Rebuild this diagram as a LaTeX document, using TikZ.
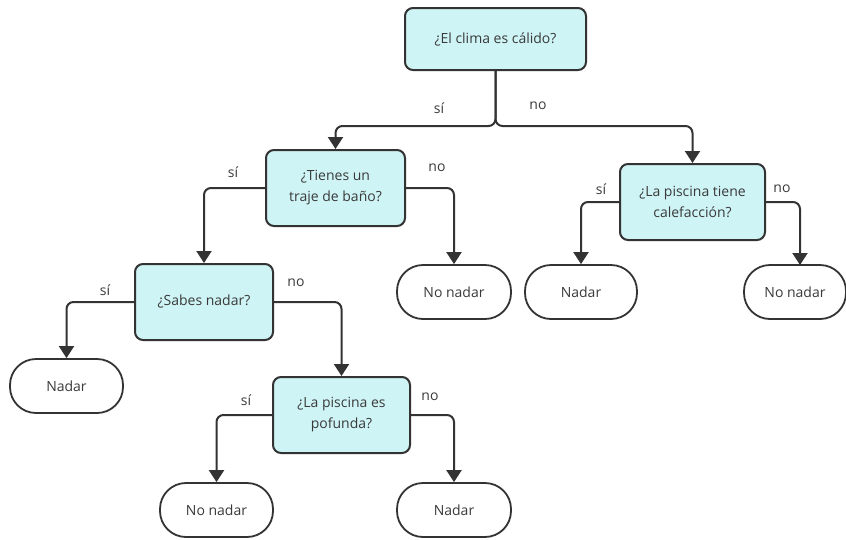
\documentclass[tikz,border=0pt]{standalone}
\usepackage{fontspec}
\setmainfont{Open Sans}
\usetikzlibrary{arrows.meta}
\definecolor{boxfill}{HTML}{CFF4F5}
\definecolor{linec}{HTML}{333333}
\definecolor{textc}{HTML}{3A3A3A}
\begin{document}
\begin{tikzpicture}[x=1pt,y=1pt,
  every node/.style={font=\fontsize{14}{21}\selectfont, text=textc},
  decision/.style={draw=linec, line width=2pt, fill=boxfill, rounded corners=8pt, align=center, inner sep=0pt},
  terminal/.style={draw=linec, line width=1.8pt, fill=white, rounded corners=26pt, inner sep=0pt, minimum height=54pt},
  conn/.style={draw=linec, line width=2pt, rounded corners=7pt, -{Triangle[width=15pt,length=12pt]}},
  lbl/.style={inner sep=0pt}
]
\useasboundingbox (0,0) rectangle (846,-539);
% decisions
\node[decision, minimum width=181pt, minimum height=62pt] (d1) at (495.5,-39) {¿El clima es cálido?};
\node[decision, minimum width=139pt, minimum height=76pt] (d2) at (335.5,-188) {¿Tienes un\\traje de baño?};
\node[decision, minimum width=145pt, minimum height=76pt] (d3) at (692.5,-202) {¿La piscina tiene\\calefacción?};
\node[decision, minimum width=138pt, minimum height=76pt] (d4) at (204,-302) {¿Sabes nadar?};
\node[decision, minimum width=137pt, minimum height=76pt] (d5) at (341.5,-415) {¿La piscina es\\pofunda?};
% terminals
\node[terminal, minimum width=114pt] (t1) at (454,-292) {No nadar};
\node[terminal, minimum width=112pt] (t2) at (581,-292) {Nadar};
\node[terminal, minimum width=102pt] (t3) at (795,-292) {No nadar};
\node[terminal, minimum width=113pt] (t4) at (66.5,-386) {Nadar};
\node[terminal, minimum width=113pt] (t5) at (216.5,-510) {No nadar};
\node[terminal, minimum width=114pt] (t6) at (454,-510) {Nadar};
% connectors
\coordinate (split) at (495.5,-126);
\draw[conn] (d1.south) -- (split) -| (d2.north);
\draw[conn] (d1.south) -- (split) -| (d3.north);
\draw[conn] (d2.west) -| (d4.north);
\draw[conn] (d2.east) -| (t1.north);
\draw[conn] (d4.west) -| (t4.north);
\draw[conn] (d4.east) -| (d5.north);
\draw[conn] (d5.west) -| (t5.north);
\draw[conn] (d5.east) -| (t6.north);
\draw[conn] (d3.west) -| (t2.north);
\coordinate (t3in) at (800,-265);
\draw[conn] (d3.east) -| (t3in);
% labels
\node[lbl] (l1) at (439,-108) {sí};
\node[lbl] (l2) at (538,-106) {no};
\node[lbl] (l3) at (233,-172) {sí};
\node[lbl] (l4) at (437,-168) {no};
\node[lbl] (l5) at (105,-290) {sí};
\node[lbl] (l6) at (296,-283) {no};
\node[lbl] (l7) at (246,-400) {sí};
\node[lbl] (l8) at (430,-397) {no};
\node[lbl] (l9) at (601,-189) {sí};
\node[lbl] (l10) at (782,-189) {no};
\end{tikzpicture}
\end{document}
